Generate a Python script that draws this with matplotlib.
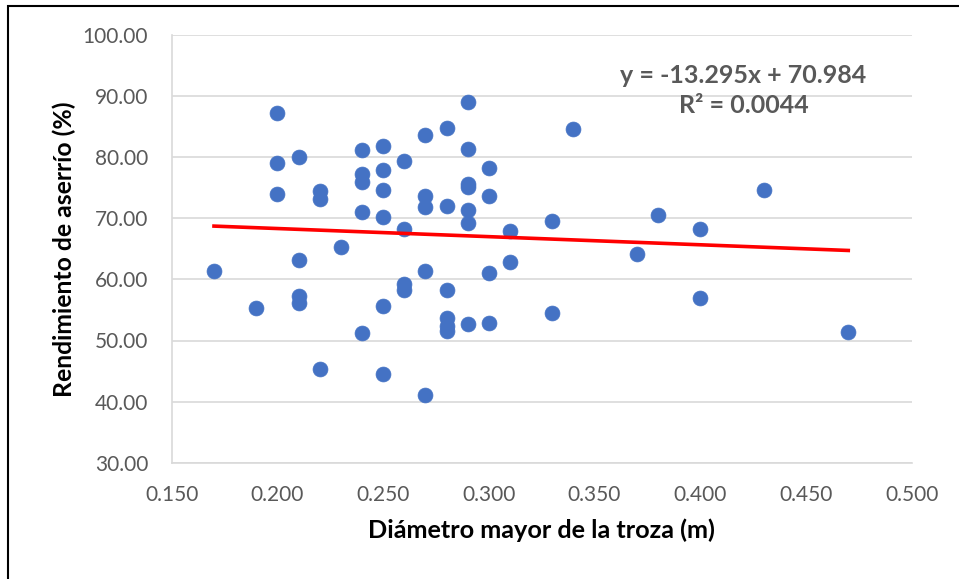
import numpy as np
import matplotlib
matplotlib.use("Agg")
import matplotlib.pyplot as plt
from matplotlib.patches import Rectangle
from matplotlib.ticker import FormatStrFormatter, MultipleLocator

plt.rcParams['font.family'] = ['Lato', 'DejaVu Sans']

# diámetro mayor (m) y rendimiento (%)
diametro = [0.17, 0.19,
            0.20, 0.20, 0.20,
            0.21, 0.21, 0.21, 0.21,
            0.22, 0.22, 0.22,
            0.23,
            0.24, 0.24, 0.24, 0.24, 0.24,
            0.25, 0.25, 0.25, 0.25, 0.25, 0.25,
            0.26, 0.26, 0.26, 0.26,
            0.27, 0.27, 0.27, 0.27, 0.27,
            0.28, 0.28, 0.28, 0.28, 0.28, 0.28,
            0.29, 0.29, 0.29, 0.29, 0.29, 0.29, 0.29,
            0.30, 0.30, 0.30, 0.30,
            0.31, 0.31,
            0.33, 0.33,
            0.34, 0.37, 0.38,
            0.40, 0.40,
            0.43, 0.47]
rendimiento = [61.3, 55.4,
               87.3, 79.0, 74.0,
               80.0, 63.1, 57.3, 56.1,
               74.4, 73.2, 45.4,
               65.3,
               81.1, 77.3, 75.9, 71.1, 51.2,
               81.8, 77.9, 74.7, 70.2, 55.6, 44.5,
               79.4, 68.2, 59.2, 58.3,
               83.7, 73.6, 71.9, 61.3, 41.1,
               84.7, 72.0, 58.3, 53.7, 52.4, 51.5,
               89.0, 81.3, 75.6, 75.1, 71.3, 69.2, 52.7,
               78.3, 73.6, 61.1, 52.9,
               68.0, 62.9,
               69.6, 54.5,
               84.6, 64.1, 70.6,
               68.3, 56.9,
               74.6, 51.4]

# tendencia lineal mostrada en el grafico
pendiente = -13.295
intercepto = 70.984
r2 = 0.0044

fig = plt.figure(figsize=(9.59, 5.79), dpi=100)
ax = fig.add_axes([171.7 / 959, 1 - 462.7 / 579, 740 / 959, 427.7 / 579])

# marco del grafico
fig.patches.append(Rectangle((8 / 959, -0.1), 1.2, (579 - 5.7) / 579 + 0.1,
                             transform=fig.transFigure, fill=False,
                             edgecolor='black', linewidth=1.5))

ax.scatter(diametro, rendimiento, s=115, color='#4472C4', zorder=3,
           edgecolors='#4472C4', linewidths=0.5)

xt = np.array([min(diametro), max(diametro)])
ax.plot(xt, pendiente * xt + intercepto, color='#FF0000', linewidth=2.6, zorder=4)

ax.set_xlim(0.15, 0.50)
ax.set_ylim(30, 100)
ax.xaxis.set_major_locator(MultipleLocator(0.05))
ax.yaxis.set_major_locator(MultipleLocator(10))
ax.xaxis.set_major_formatter(FormatStrFormatter('%.3f'))
ax.yaxis.set_major_formatter(FormatStrFormatter('%.2f'))
ax.grid(axis='y', color='#D9D9D9', linewidth=1.2)
ax.set_axisbelow(True)
for s in ['top', 'right']:
    ax.spines[s].set_visible(False)
for s in ['left', 'bottom']:
    ax.spines[s].set_color('#D9D9D9')
    ax.spines[s].set_linewidth(1.2)
ax.tick_params(length=0, labelsize=15, labelcolor='#595959')
ax.tick_params(axis='y', pad=17)
ax.tick_params(axis='x', pad=16)

ax.set_xlabel('Diámetro mayor de la troza (m)', fontsize=18.2, fontweight='bold',
              color='black', labelpad=10)
ax.set_ylabel('Rendimiento de aserrío (%)', fontsize=17.8, fontweight='bold',
              color='black', labelpad=5)

ax.text(0.4205, 90.9, 'y = -13.295x + 70.984\nR² = 0.0044', fontsize=18,
        fontweight='bold', color='#595959', ha='center', va='center',
        linespacing=1.35)

fig.savefig('out.png', dpi=100)
